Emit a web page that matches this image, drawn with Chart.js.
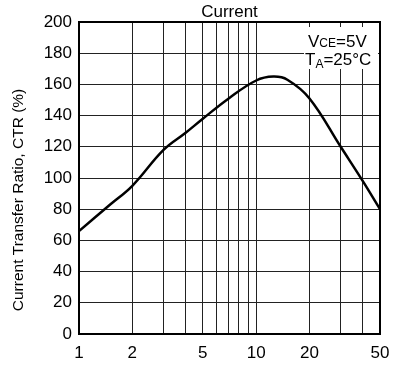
<!DOCTYPE html>
<html>
<head>
<meta charset="utf-8">
<script src="https://cdn.jsdelivr.net/npm/chart.js@4/dist/chart.umd.min.js"></script>
<style>
  html, body { margin: 0; padding: 0; background: #fff; }
  #wrap { width: 407px; height: 370px; position: relative; }
</style>
</head>
<body>
<div id="wrap"><canvas id="ctrChart"></canvas></div>
<script>
// forward current (mA) vs CTR (%)
var currentMA = [1, 1.5, 2, 3, 4, 5, 7, 10, 12.5, 15, 20, 30, 40, 50];
var ctrPct    = [66, 83, 95, 118, 129, 138, 151, 162.5, 165, 163, 151, 120, 98, 80];

var xGridValues = [1, 2, 3, 4, 5, 6, 7, 8, 9, 10, 20, 30, 40, 50];
var xLabelValues = [1, 2, 5, 10, 20, 50];
var chartTitle = 'Current';
var yTitle = 'Current Transfer Ratio, CTR (%)';

const FONT = '"Liberation Sans", Arial, Helvetica, sans-serif';

// frame, title, y title and the conditions box
const decorations = {
    id: 'decorations',
    afterDatasetsDraw(chart) {
        const ctx = chart.ctx;
        const a = chart.chartArea;
        ctx.save();

        // conditions box (white, hides grid behind it)
        ctx.fillStyle = '#fff';
        ctx.fillRect(a.right - 76, a.top + 5, 74, 42);

        ctx.fillStyle = '#000';
        ctx.textBaseline = 'alphabetic';
        ctx.textAlign = 'left';
        let x = a.right - 72;
        let y = a.top + 25;
        ctx.font = '17px ' + FONT;
        ctx.fillText('V', x, y);
        x += ctx.measureText('V').width;
        ctx.font = '12px ' + FONT;
        ctx.fillText('CE', x, y);
        x += ctx.measureText('CE').width;
        ctx.font = '17px ' + FONT;
        ctx.fillText('=5V', x, y);

        x = a.right - 75;
        y = a.top + 43;
        ctx.fillText('T', x, y);
        x += ctx.measureText('T').width;
        ctx.font = '12px ' + FONT;
        ctx.fillText('A', x, y + 3);
        x += ctx.measureText('A').width;
        ctx.font = '17px ' + FONT;
        ctx.fillText('=25°C', x, y);

        // plot frame
        ctx.strokeStyle = '#000';
        ctx.lineWidth = 2;
        ctx.strokeRect(a.left, a.top, a.right - a.left, a.bottom - a.top);

        // chart title
        ctx.font = '17px ' + FONT;
        ctx.textAlign = 'center';
        ctx.textBaseline = 'bottom';
        ctx.fillText(chartTitle, (a.left + a.right) / 2, a.top - 1);

        // y axis title
        ctx.translate(19, 200);
        ctx.rotate(-Math.PI / 2);
        ctx.font = '15.5px ' + FONT;
        ctx.textBaseline = 'middle';
        ctx.fillText(yTitle, 0, 0);

        ctx.restore();
    }
};

new Chart(document.getElementById('ctrChart'), {
    type: 'line',
    data: {
        datasets: [{
            data: currentMA.map((c, i) => ({ x: c, y: ctrPct[i] })),
            borderColor: '#000',
            borderWidth: 2.5,
            pointRadius: 0,
            fill: false,
            tension: 0.4
        }]
    },
    options: {
        responsive: true,
        maintainAspectRatio: false,
        animation: false,
        layout: { padding: { left: 0, right: 27, top: 22, bottom: 0 } },
        plugins: {
            legend: { display: false },
            title: { display: false },
            tooltip: { enabled: false }
        },
        scales: {
            x: {
                type: 'logarithmic',
                min: 1,
                max: 50,
                afterBuildTicks: (scale) => {
                    scale.ticks = xGridValues.map(v => ({ value: v }));
                },
                afterFit: (scale) => { scale.height = 36; },
                grid: { color: '#222', lineWidth: 1, drawTicks: false },
                border: { display: false },
                ticks: {
                    autoSkip: false,
                    maxRotation: 0,
                    padding: 9,
                    color: '#000',
                    font: { family: FONT, size: 17 },
                    callback: (v) => xLabelValues.includes(v) ? String(v) : ''
                }
            },
            y: {
                min: 0,
                max: 200,
                afterFit: (scale) => { scale.width = 79; },
                grid: { color: '#222', lineWidth: 1, drawTicks: false },
                border: { display: false },
                ticks: {
                    stepSize: 20,
                    padding: 7,
                    color: '#000',
                    font: { family: FONT, size: 17 }
                }
            }
        }
    },
    plugins: [decorations]
});
</script>
</body>
</html>
